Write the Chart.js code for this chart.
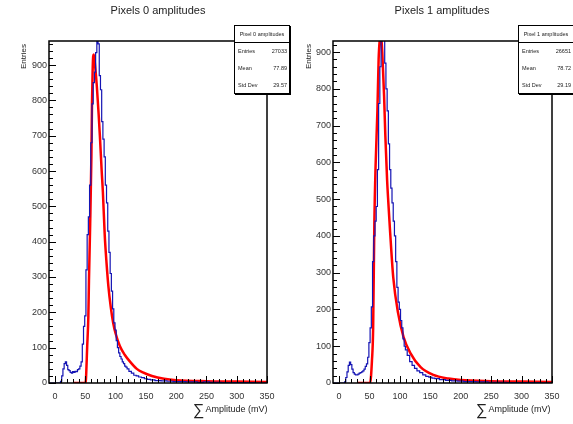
<!DOCTYPE html>
<html>
<head>
<meta charset="utf-8">
<script src="https://cdn.jsdelivr.net/npm/chart.js@4/dist/chart.umd.min.js"></script>
<style>
  body { margin: 0; width: 573px; height: 424px; overflow: hidden; background: #fff;
         font-family: "Liberation Sans", Arial, sans-serif; color: #222; }
  .pad { position: absolute; top: 0; height: 424px; }
  .title { position: absolute; top: 4px; font-size: 11px; white-space: nowrap; transform: translateX(-50%); }
  .ytitle { position: absolute; font-size: 8px; transform-origin: left top; transform: rotate(-90deg); white-space: nowrap; }
  .xtitle { position: absolute; top: 398px; font-size: 9px; white-space: nowrap; }
  .xtitle .sig { font-size: 16px; position: relative; top: 3px; margin-right: 1px; }
  .stats { position: absolute; top: 25px; width: 54px; height: 67px; background: #fff;
           border: 1px solid #000; box-shadow: 1px 1px 0 #000; font-size: 5.5px; }
  .stats .hd { height: 16px; line-height: 16px; border-bottom: 1px solid #000; text-align: center; white-space: nowrap; overflow: hidden; }
  .stats .row { height: 17px; line-height: 17px; padding: 0 2px 0 3px; display: flex; justify-content: space-between; }
</style>
</head>
<body>
<div class="pad" style="left:0;width:287px"><canvas id="c0" width="287" height="424"></canvas></div>
<div class="pad" style="left:287px;width:286px"><canvas id="c1" width="286" height="424"></canvas></div>

<div class="title" style="left:158px">Pixels 0 amplitudes</div>
<div class="title" style="left:442px">Pixels 1 amplitudes</div>
<div class="ytitle" style="left:19px;top:69px">Entries</div>
<div class="ytitle" style="left:304px;top:69px">Entries</div>
<div class="xtitle" style="left:193px"><span class="sig">∑</span>Amplitude (mV)</div>
<div class="xtitle" style="left:476px"><span class="sig">∑</span>Amplitude (mV)</div>

<div class="stats" style="left:234px">
  <div class="hd">Pixel 0 amplitudes</div>
  <div class="row"><span>Entries</span><span>27033</span></div>
  <div class="row"><span>Mean</span><span>77.89</span></div>
  <div class="row"><span>Std Dev</span><span>29.57</span></div>
</div>
<div class="stats" style="left:518px">
  <div class="hd">Pixel 1 amplitudes</div>
  <div class="row"><span>Entries</span><span>26651</span></div>
  <div class="row"><span>Mean</span><span>78.72</span></div>
  <div class="row"><span>Std Dev</span><span>29.19</span></div>
</div>

<script>
// axis ticks
const xTicks = [0, 50, 100, 150, 200, 250, 300, 350];
const yTicks = [0, 100, 200, 300, 400, 500, 600, 700, 800, 900];

// pixel 0 histogram (blue)
const hist0X = [-10, 8, 10, 12, 14, 16, 18, 20, 22, 24, 26, 28, 30, 32, 34, 36, 38, 40, 42, 44, 46, 48,
  50, 52, 54, 56, 58, 60, 62, 64, 66, 68, 70, 72, 74, 76, 78, 80, 82, 84, 86, 88, 90, 92, 94, 96,
  98, 100, 102, 104, 106, 108, 110, 112, 114, 116, 118, 120, 124, 128, 132, 136, 140, 145, 150,
  155, 160, 170, 180, 190, 200, 210, 220, 230, 240, 250, 260, 270, 280, 290, 300, 320, 340, 350];
const hist0Y = [0, 0, 5, 20, 40, 55, 60, 50, 38, 35, 30, 28, 32, 30, 33, 32, 38, 40, 48, 60, 110, 160,
  190, 320, 420, 470, 560, 680, 790, 850, 880, 935, 975, 960, 870, 830, 740, 690, 640, 560, 510, 430,
  370, 310, 260, 210, 170, 150, 120, 100, 85, 75, 68, 60, 55, 48, 45, 40, 33, 28, 22, 20, 17, 15, 12,
  10, 9, 7, 6, 5, 4, 4, 3, 3, 2, 3, 2, 2, 1, 1, 1, 1, 0, 0];

// pixel 0 fit (red)
const fit0X = [30, 50, 51, 53, 55, 56, 58, 60, 61, 62, 63, 64, 66, 69, 72, 74, 77, 79, 82, 85, 88, 92,
  96, 100, 107, 115, 124, 135, 145, 160, 180, 200, 250, 300, 350];
const fit0Y = [0, 0, 10, 100, 190, 290, 450, 640, 790, 880, 925, 930, 900, 840, 760, 700, 600, 540, 420,
  340, 275, 215, 170, 140, 105, 80, 60, 40, 30, 20, 12, 8, 5, 4, 3];

// pixel 1 histogram (blue)
const hist1X = [-10, 8, 10, 12, 14, 16, 18, 20, 22, 24, 26, 28, 30, 32, 34, 36, 38, 40, 42, 44, 46, 48,
  50, 52, 54, 56, 58, 60, 62, 64, 66, 68, 70, 72, 74, 76, 78, 80, 82, 84, 86, 88, 90, 92, 94, 96,
  98, 100, 102, 104, 106, 108, 110, 114, 118, 122, 126, 130, 135, 140, 145, 150, 155, 160, 170, 180,
  190, 200, 210, 220, 230, 240, 250, 260, 270, 280, 290, 300, 320, 340, 350];
const hist1Y = [0, 0, 3, 15, 30, 48, 57, 50, 38, 28, 24, 22, 22, 24, 27, 28, 30, 33, 38, 45, 52, 70,
  110, 150, 207, 330, 400, 440, 480, 580, 760, 860, 930, 950, 945, 870, 800, 740, 650, 580, 530, 490,
  440, 400, 330, 260, 220, 200, 170, 150, 120, 100, 90, 75, 58, 48, 40, 33, 28, 22, 18, 16, 13, 12,
  9, 7, 6, 5, 4, 4, 3, 3, 2, 2, 2, 1, 1, 1, 1, 0, 0];

// pixel 1 fit (red)
const fit1X = [30, 51, 54, 56, 58, 60, 63, 65, 67, 69, 71, 74, 76, 79, 81, 84, 89, 97, 106, 117, 134,
  155, 180, 200, 250, 300, 350];
const fit1Y = [0, 0, 60, 150, 440, 590, 740, 880, 935, 945, 900, 780, 674, 550, 490, 408, 288, 190,
  125, 82, 43, 22, 12, 8, 5, 4, 3];

function toPoints(xs, ys) {
  return xs.map((x, i) => ({ x: x, y: ys[i] }));
}

// frame + inward ticks, like ROOT draws them
const frameTicks = {
  id: 'frameTicks',
  afterDraw(chart) {
    const ctx = chart.ctx, a = chart.chartArea;
    const xs = chart.scales.x, ys = chart.scales.y;
    ctx.save();
    ctx.strokeStyle = '#000';
    ctx.lineWidth = 1;
    ctx.beginPath();
    for (let v = 0; v <= 350; v += 10) {
      const px = Math.round(xs.getPixelForValue(v)) + 0.5;
      const len = v % 50 === 0 ? 7 : 4;
      ctx.moveTo(px, a.bottom);
      ctx.lineTo(px, a.bottom - len);
    }
    for (let v = 0; v <= ys.max; v += 20) {
      const py = Math.round(ys.getPixelForValue(v)) + 0.5;
      const len = v % 100 === 0 ? 7 : 4;
      ctx.moveTo(a.left, py);
      ctx.lineTo(a.left + len, py);
    }
    ctx.stroke();
    ctx.lineWidth = 1.5;
    ctx.strokeRect(a.left, a.top, a.right - a.left, a.bottom - a.top);
    ctx.restore();
  }
};

function makeChart(id, histX, histY, fitX, fitY, yMax, plotLeft, plotRight) {
  const ctx = document.getElementById(id).getContext('2d');
  return new Chart(ctx, {
    type: 'line',
    data: {
      datasets: [
        {
          data: toPoints(histX, histY),
          borderColor: '#1414b4',
          borderWidth: 1.2,
          stepped: 'middle',
          pointRadius: 0,
          fill: false
        },
        {
          data: toPoints(fitX, fitY),
          borderColor: '#ff0000',
          borderWidth: 2.5,
          tension: 0.4,
          cubicInterpolationMode: 'monotone',
          pointRadius: 0,
          fill: false
        }
      ]
    },
    options: {
      responsive: false,
      animation: false,
      layout: { padding: { top: 41, right: plotRight, left: 0, bottom: 0 } },
      plugins: { legend: { display: false }, tooltip: { enabled: false } },
      scales: {
        x: {
          type: 'linear', min: -10, max: 350,
          afterBuildTicks: s => { s.ticks = xTicks.map(v => ({ value: v })); },
          afterFit: s => { s.height = 41; },
          grid: { display: false, drawTicks: false },
          border: { display: false },
          ticks: { padding: 8, maxRotation: 0, color: '#333', font: { family: 'Liberation Sans', size: 9 } }
        },
        y: {
          type: 'linear', min: 0, max: yMax,
          afterBuildTicks: s => { s.ticks = yTicks.map(v => ({ value: v })); },
          afterFit: s => { s.width = plotLeft; },
          grid: { display: false, drawTicks: false },
          border: { display: false },
          ticks: { padding: 2, color: '#333', font: { family: 'Liberation Sans', size: 9 } }
        }
      }
    },
    plugins: [frameTicks]
  });
}

makeChart('c0', hist0X, hist0Y, fit0X, fit0Y, 968, 49, 20);
makeChart('c1', hist1X, hist1Y, fit1X, fit1Y, 930, 46, 21);
</script>
</body>
</html>
